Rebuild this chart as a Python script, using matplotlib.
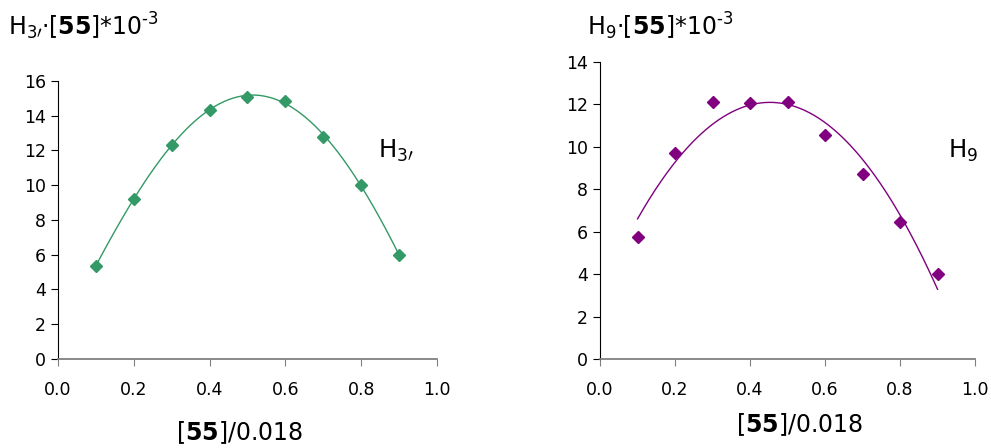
import numpy as np
import matplotlib.pyplot as plt

plt.rcParams["font.family"] = "DejaVu Sans"
plt.rcParams["mathtext.fontset"] = "dejavusans"

# mole fraction of 55
x_frac = [0.1, 0.2, 0.3, 0.4, 0.5, 0.6, 0.7, 0.8, 0.9]

# Job plot values (x 10^-3)
h3_vals = [5.37, 9.19, 12.33, 14.35, 15.08, 14.87, 12.78, 10.01, 5.99]
h9_vals = [5.74, 9.71, 12.12, 12.06, 12.12, 10.55, 8.74, 6.48, 4.01]

green = "#339966"
purple = "#800080"


def job_axes(ax, ymax):
    ax.set_xlim(0, 1.0)
    ax.set_ylim(0, ymax)
    ax.set_xticks(np.arange(0, 1.01, 0.2))
    ax.set_xticklabels([f"{t:.1f}" for t in np.arange(0, 1.01, 0.2)])
    ax.set_yticks(np.arange(0, ymax + 1, 2))
    for side in ("top", "right"):
        ax.spines[side].set_visible(False)
    ax.spines["left"].set_color("black")
    ax.spines["bottom"].set_color("#808080")
    ax.spines["bottom"].set_linewidth(1.3)
    ax.tick_params(axis="both", direction="out", length=5, labelsize=12.5,
                   colors="black")
    ax.tick_params(axis="x", pad=11, color="#808080")


fig = plt.figure(figsize=(9.91, 4.48), dpi=100)

title_fmt = r"H$_{%s}$·[$\mathbf{55}$]*10$^{\text{-}3}$"

ax1 = fig.add_axes([0.0585, 0.1987, 0.3824, 0.6205])
job_axes(ax1, 16)
xs = np.linspace(0.1, 0.9, 200)
fit1 = np.polyfit(x_frac, h3_vals, 4)
ax1.plot(xs, np.polyval(fit1, xs), color=green, linewidth=1)
ax1.plot(x_frac, h3_vals, linestyle="none", marker="D", markersize=6.5,
         color=green)
ax1.text(0.844, 0.723, r"H$_{3\prime}$", transform=ax1.transAxes,
         fontsize=17.5, va="baseline")
fig.text(0.008, 0.922, title_fmt % r"3\prime", fontsize=17, va="baseline")
fig.text(0.242, 0.018, r"[$\mathbf{55}$]/0.018", fontsize=17, ha="center",
         va="baseline")

ax2 = fig.add_axes([0.6055, 0.1987, 0.3784, 0.663])
job_axes(ax2, 14)
fit2 = np.polyfit(x_frac, h9_vals, 2)
ax2.plot(xs, np.polyval(fit2, xs), color=purple, linewidth=1)
ax2.plot(x_frac, h9_vals, linestyle="none", marker="D", markersize=6.5,
         color=purple)
ax2.text(0.928, 0.677, r"H$_9$", transform=ax2.transAxes, fontsize=17.5,
         va="baseline")
fig.text(0.592, 0.922, title_fmt % "9", fontsize=17, va="baseline")
fig.text(0.807, 0.036, r"[$\mathbf{55}$]/0.018", fontsize=17, ha="center",
         va="baseline")

plt.savefig("out.png", dpi=100)
